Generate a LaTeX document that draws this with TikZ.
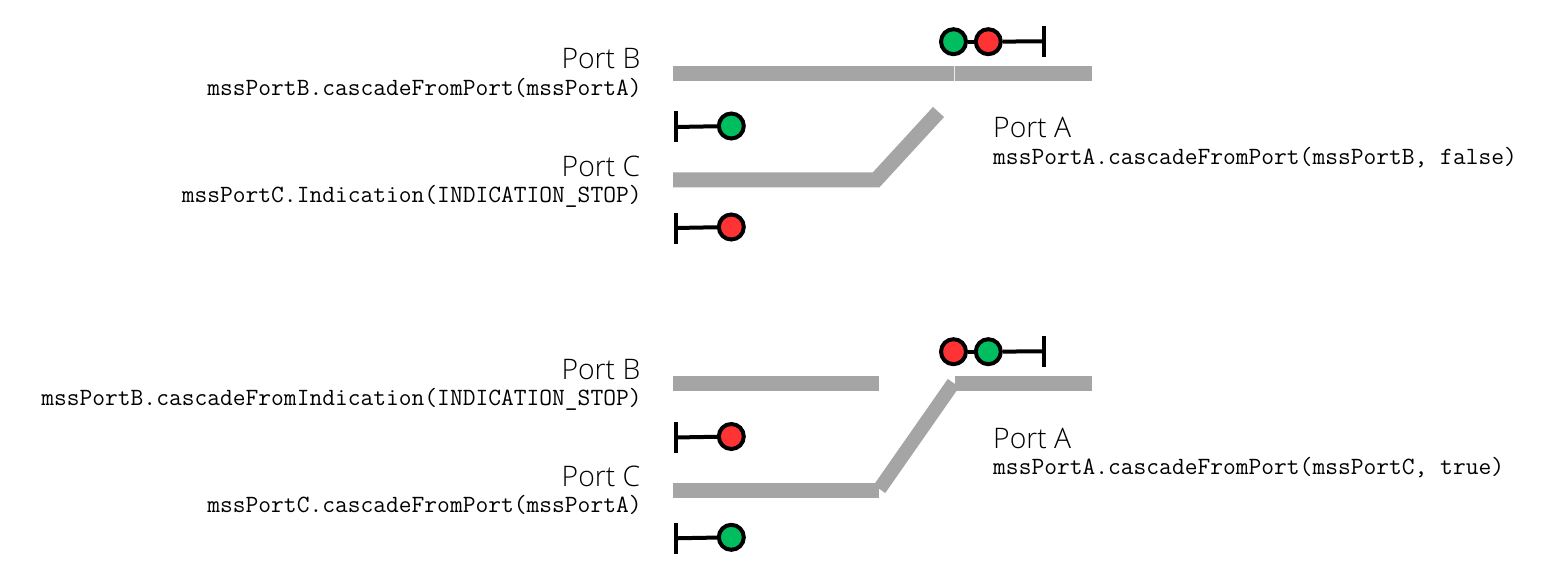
\documentclass[tikz,border=0pt]{standalone}
\usetikzlibrary{calc}
\usepackage{fontspec}
\setmainfont{Open Sans}[UprightFont=* Light]
\definecolor{trackgray}{HTML}{A5A5A5}
\definecolor{siggreen}{HTML}{00BD5F}
\definecolor{sigred}{HTML}{FF3333}
\tikzset{
  track/.style={draw=trackgray,line width=15pt,line cap=butt,line join=miter},
  trackdiag/.style={draw=trackgray,line width=14pt,line cap=butt,line join=miter},
  divider/.style={draw=white!80!trackgray,line width=1pt},
  lamp/.style={circle,draw=black,line width=4pt,minimum size=25pt,inner sep=0pt},
  lampg/.style={lamp,fill=siggreen},
  lampr/.style={lamp,fill=sigred},
  post/.style={draw=black,line width=4pt},
  portname/.style={font=\fontsize{28.3}{30}\selectfont,inner sep=0pt},
  portcode/.style={font=\fontsize{24.8}{28}\selectfont\ttfamily,inner sep=0pt},
}
\begin{document}
\begin{tikzpicture}[x=1pt,y=-1pt]
\useasboundingbox (0,0) rectangle (1559,575);
\fill[white] (0,0) rectangle (1559,575);

% --- upper panel: tracks
\coordinate (bL1) at (673,73.5);
\coordinate (bM1) at (954.5,73.5);
\coordinate (aR1) at (1092,73.5);
\coordinate (cL1) at (673,180);
\coordinate (cK1) at (876,180);
\coordinate (cE1) at (938.5,112);
\draw[track] (bL1) -- (aR1);
\draw[divider] ($(bM1)+(0,-7.5)$) -- ($(bM1)+(0,7.5)$);
\draw[track] (cL1) -- (cK1) -- (cE1);

% --- upper panel: signals
\node[lampg] (s1) at (953.5,41.7) {};
\node[lampr] (s2) at (988.3,41.7) {};
\coordinate (s3) at (1044,41.3);
\draw[post] (s1) -- (s2);
\draw[post] (s2) -- (s3);
\draw[post] ($(s3)+(0,-15.5)$) -- ($(s3)+(0,15.5)$);

\node[lampg] (s4) at (731.3,126) {};
\coordinate (s4t) at (675.5,127);
\draw[post] (s4t) -- (s4);
\draw[post] ($(s4t)+(0,-15.5)$) -- ($(s4t)+(0,15.5)$);

\node[lampr] (s5) at (731.3,227) {};
\coordinate (s5t) at (675.5,228);
\draw[post] (s5t) -- (s5);
\draw[post] ($(s5t)+(0,-15.5)$) -- ($(s5t)+(0,15.5)$);

% --- upper panel: labels
\node[portname,anchor=base east] (t1) at (640.5,69) {Port B};
\node[portcode,anchor=base east] (t2) at (641.8,95.5) {mssPortB.cascadeFromPort(mssPortA)};
\node[portname,anchor=base east] (t3) at (640.5,176) {Port C};
\node[portcode,anchor=base east] (t4) at (641.8,202.5) {mssPortC.Indication(INDICATION\_STOP)};
\node[portname,anchor=base west] (t5) at (993,138) {Port A};
\node[portcode,anchor=base west] (t6) at (993,164.5) {mssPortA.cascadeFromPort(mssPortB, false)};

% --- lower panel: tracks
\coordinate (bL2) at (673,383.5);
\coordinate (bE2) at (879,383.5);
\coordinate (aL2) at (955,383.5);
\coordinate (aR2) at (1092,383.5);
\coordinate (cL2) at (673,490);
\coordinate (cE2) at (879,490);
\coordinate (dA2) at (953.5,383);
\coordinate (dB2) at (879.5,489);
\draw[track] (bL2) -- (bE2);
\draw[track] (aL2) -- (aR2);
\draw[track] (cL2) -- (cE2);
\draw[trackdiag] (dA2) -- (dB2);

% --- lower panel: signals
\node[lampr] (s6) at (953.5,351.7) {};
\node[lampg] (s7) at (988.3,351.7) {};
\coordinate (s8) at (1044,351.3);
\draw[post] (s6) -- (s7);
\draw[post] (s7) -- (s8);
\draw[post] ($(s8)+(0,-15.5)$) -- ($(s8)+(0,15.5)$);

\node[lampr] (s9) at (731.3,436.5) {};
\coordinate (s9t) at (675.5,437.5);
\draw[post] (s9t) -- (s9);
\draw[post] ($(s9t)+(0,-15.5)$) -- ($(s9t)+(0,15.5)$);

\node[lampg] (s10) at (731.3,537.3) {};
\coordinate (s10t) at (675.5,538.3);
\draw[post] (s10t) -- (s10);
\draw[post] ($(s10t)+(0,-15.5)$) -- ($(s10t)+(0,15.5)$);

% --- lower panel: labels
\node[portname,anchor=base east] (t7) at (640.5,379) {Port B};
\node[portcode,anchor=base east] (t8) at (641.8,405.5) {mssPortB.cascadeFromIndication(INDICATION\_STOP)};
\node[portname,anchor=base east] (t9) at (640.5,486) {Port C};
\node[portcode,anchor=base east] (t10) at (641.8,512.5) {mssPortC.cascadeFromPort(mssPortA)};
\node[portname,anchor=base west] (t11) at (993,448) {Port A};
\node[portcode,anchor=base west] (t12) at (993,474.5) {mssPortA.cascadeFromPort(mssPortC, true)};
\end{tikzpicture}
\end{document}
